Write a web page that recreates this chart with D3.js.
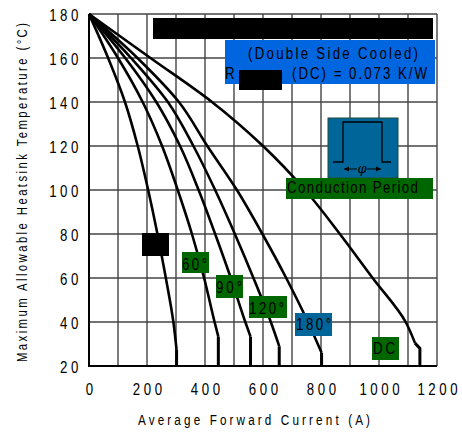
<!DOCTYPE html>
<html><head><meta charset="utf-8">
<script src="https://cdn.jsdelivr.net/npm/d3@7"></script>
<style>
body{margin:0;background:#fff;}
svg text{font-family:"Liberation Sans",Arial,sans-serif;fill:#000;}
</style></head><body>
<svg id="c" width="462" height="433"></svg>
<script>
const temps = [180,160,140,120,100,80,60,40];
const xTicks = [0,200,400,600,800,1000,1200];
const yTicks = [20,40,60,80,100,120,140,160,180];
const cur30  = [0,66,124,168,204,236,265,291];
const cur60  = [0,100,185,252,306,355,397,433];
const cur90  = [0,125,232,314,378,435,489,539];
const cur120 = [0,145,272,360,435,503,567,627];
const cur180 = [0,167,310,408,510,598,680,755];
const curDC  = [0,212,424,600,745,865,978,1092];
const knee30  = [[302,27.3]];
const knee60  = [[446,33.3]];
const knee90  = [[557,33.3]];
const knee120 = [[656,29]];
const knee180 = [[802,26]];
const kneeDC  = [[1124,30.5],[1141,28]];
const seriesNames = ["30°","60°","90°","120°","180°","DC"];

const series = [
  {cur:cur30, knee:knee30},
  {cur:cur60, knee:knee60},
  {cur:cur90, knee:knee90},
  {cur:cur120, knee:knee120},
  {cur:cur180, knee:knee180},
  {cur:curDC, knee:kneeDC}
];

const SX = 0.78;
const svg = d3.select("#c");
const x = d3.scaleLinear().domain([0,1200]).range([89,437]);
const y = d3.scaleLinear().domain([20,180]).range([366,14]);

// grid
const g = svg.append("g");
g.selectAll(".vg").data(d3.range(0,1201,100)).join("line")
  .attr("x1",d=>x(d)).attr("x2",d=>x(d)).attr("y1",y(180)).attr("y2",y(20))
  .attr("stroke","#444").attr("stroke-width",1.4);
g.selectAll(".hg").data(d3.range(20,181,20)).join("line")
  .attr("x1",x(0)).attr("x2",x(1200)).attr("y1",d=>y(d)).attr("y2",d=>y(d))
  .attr("stroke","#444").attr("stroke-width",1.4);
svg.append("line").attr("x1",x(0)).attr("x2",x(0)).attr("y1",y(180)).attr("y2",y(20)+1).attr("stroke","#000").attr("stroke-width",2);
svg.append("line").attr("x1",x(0)-1).attr("x2",x(1200)).attr("y1",y(20)).attr("y2",y(20)).attr("stroke","#000").attr("stroke-width",2);

// tick labels via axes
const xAxis = svg.append("g").attr("transform",`translate(0,${y(20)})`)
  .call(d3.axisBottom(x).tickValues(xTicks).tickSize(0).tickPadding(17).tickFormat(d3.format("d")));
xAxis.select(".domain").remove();
xAxis.selectAll("text").attr("font-size",17).attr("letter-spacing",4.6).attr("dx",2.3)
  .attr("transform",`scale(${SX},1)`);
const yAxis = svg.append("g").attr("transform",`translate(${x(0)},0)`)
  .call(d3.axisLeft(y).tickValues(yTicks).tickSize(0).tickPadding(9).tickFormat(d3.format("d")));
yAxis.select(".domain").remove();
yAxis.selectAll("text").attr("font-size",17).attr("letter-spacing",4.6).attr("dy","0.36em")
  .attr("x",-7/SX).attr("transform",`scale(${SX},1)`);

function stxt(t,tr,len,fs){
  return svg.append("text").attr("transform",`${tr} scale(${SX},1)`).attr("x",0).attr("y",0)
    .attr("font-size",fs).attr("textLength",len/SX).attr("lengthAdjust","spacing").text(t);
}
// axis titles
stxt("Average Forward Current (A)","translate(138,425)",232,15);
stxt("Maximum Allowable Heatsink Temperature (°C)","translate(27,362) rotate(-90)",339,14.5);

// curves
const smooth = d3.line().x(d=>x(d[0])).y(d=>y(d[1])).curve(d3.curveMonotoneY);
const straight = d3.line().x(d=>x(d[0])).y(d=>y(d[1]));
series.forEach(s=>{
  const pts = s.cur.map((c,i)=>[c,temps[i]]);
  svg.append("path").attr("d",smooth(pts.concat([s.knee[0]])))
    .attr("fill","none").attr("stroke","#000").attr("stroke-width",2.6);
  const last = s.knee[s.knee.length-1];
  svg.append("path").attr("d",straight(s.knee.concat([[last[0],20]])))
    .attr("fill","none").attr("stroke","#000").attr("stroke-width",3);
});

// annotations
svg.append("rect").attr("x",153).attr("y",18).attr("width",280).attr("height",21).attr("fill","#000");
svg.append("rect").attr("x",225).attr("y",40).attr("width",210).attr("height",44).attr("fill","#0066E0");
stxt("(Double Side Cooled)","translate(248,59)",170,17);
stxt("R","translate(225,79)",9,17);
svg.append("rect").attr("x",239).attr("y",70).attr("width",43).attr("height",20).attr("fill","#000");
stxt("(DC) = 0.073 K/W","translate(292,79)",135,17);

// conduction icon
svg.append("rect").attr("x",328).attr("y",118).attr("width",70).attr("height",60).attr("fill","#00669A").attr("stroke","#1c4a3a").attr("stroke-width",1);
svg.append("path").attr("d","M333,162 H343 V122 H382 V162 H391").attr("fill","none").attr("stroke","#000").attr("stroke-width",1.3);
svg.append("path").attr("d","M344,169 H357 M367,169 H381").attr("fill","none").attr("stroke","#000").attr("stroke-width",1.2);
svg.append("path").attr("d","M344,169 l5,-2.5 v5 z M381,169 l-5,-2.5 v5 z").attr("fill","#000");
svg.append("text").attr("x",362).attr("y",173).attr("text-anchor","middle").attr("font-size",13).attr("font-style","italic").style("font-family","'DejaVu Serif',serif").text("φ");
svg.append("rect").attr("x",286).attr("y",178).attr("width",147).attr("height",21).attr("fill","#006600");
stxt("Conduction Period","translate(287,193)",131,17);

// curve labels
const labelBoxes = [
  {t:"",   x:142,y:233,w:27,h:23,c:"#000"},
  {t:"60°",x:182,y:252,w:27,h:21,c:"#006600",tx:182,tb:270,tl:25},
  {t:"90°",x:216,y:275,w:27,h:23,c:"#006600",tx:216,tb:293,tl:26},
  {t:"120°",x:249,y:296,w:38,h:22,c:"#006600",tx:249,tb:314,tl:35},
  {t:"180°",x:295,y:313,w:37,h:23,c:"#00669A",tx:296,tb:330,tl:35},
  {t:"DC", x:372,y:337,w:27,h:23,c:"#006600",tx:373,tb:354,tl:22}
];
labelBoxes.forEach(b=>{
  svg.append("rect").attr("x",b.x).attr("y",b.y).attr("width",b.w).attr("height",b.h).attr("fill",b.c);
  if(b.t) stxt(b.t,`translate(${b.tx},${b.tb})`,b.tl,17);
});
</script></body></html>
